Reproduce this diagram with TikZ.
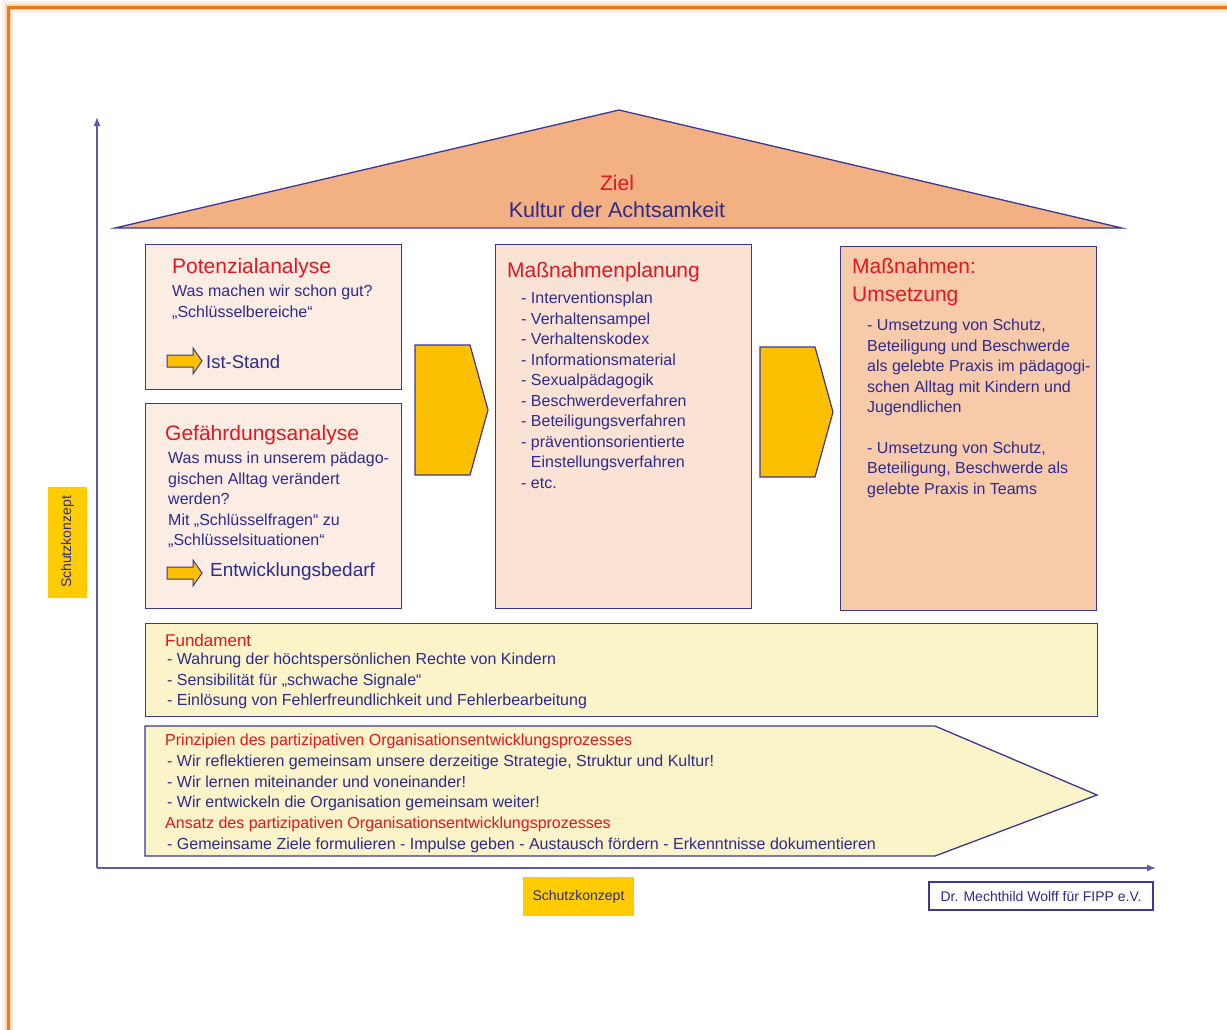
\documentclass[tikz,border=0pt]{standalone}
\usepackage{fontspec}
\setmainfont{Liberation Sans}
\usetikzlibrary{arrows.meta}

\definecolor{navy}{RGB}{46,43,140}
\definecolor{linenavy}{RGB}{60,55,150}
\definecolor{axisblue}{RGB}{95,90,170}
\definecolor{headred}{RGB}{228,22,32}
\definecolor{potfill}{RGB}{251,237,228}
\definecolor{planfill}{RGB}{250,227,213}
\definecolor{umsfill}{RGB}{247,202,170}
\definecolor{rooffill}{RGB}{243,176,131}
\definecolor{basefill}{RGB}{251,244,200}
\definecolor{arrowfill}{RGB}{253,192,0}
\definecolor{tagfill}{RGB}{255,204,0}
\definecolor{frameorange}{RGB}{240,120,20}

\newcommand{\fsz}[2]{\fontsize{#1}{#2}\selectfont}

\tikzset{
  box/.style={draw=linenavy, line width=1.3pt, anchor=north west, inner sep=0pt},
  head/.style={anchor=west, inner sep=0pt, text=headred, font=\fsz{21}{28}, align=left},
  smallhead/.style={anchor=west, inner sep=0pt, text=headred, font=\fsz{16}{20.5}, align=left},
  body/.style={anchor=north west, inner sep=0pt, text=navy, font=\fsz{16}{20.4}, align=left},
  bigarrow/.style={fill=arrowfill, draw=linenavy, line width=1.2pt, line join=miter},
  axis/.style={draw=axisblue, line width=1.3pt, -{Latex[length=9pt,width=7pt]}},
  tag/.style={fill=tagfill, text=navy, font=\fsz{14}{16}, inner sep=0pt,
    minimum width=111pt, minimum height=39pt},
  pics/blockarrow/.style={code={
    \draw[fill=arrowfill, draw=linenavy, line width=1pt]
      (0,-6) -- (26,-6) -- (26,-13) -- (35,0) -- (26,13) -- (26,6) -- (0,6) -- cycle;}}
}

\begin{document}
\begin{tikzpicture}[x=1pt, y=-1pt]
\useasboundingbox (0,0) rectangle (1227,1029);

% page frame with soft glow
\draw[frameorange!12, line width=12pt] (8,1040) -- (8,7) -- (1240,7);
\draw[frameorange!30, line width=6pt] (8,1040) -- (8,7) -- (1240,7);
\draw[frameorange, line width=3pt] (8,1040) -- (8,7) -- (1240,7);

% axes
\coordinate (O) at (97,868);
\coordinate (ytop) at (97,117);
\coordinate (xend) at (1156,868);
\draw[axis] (O) -- (ytop);
\draw[axis] (O) -- (xend);

% roof
\coordinate (roofL) at (115,228);
\coordinate (roofT) at (619,110);
\coordinate (roofR) at (1122,228);
\draw[fill=rooffill, draw=linenavy, line width=1.3pt, line join=miter] (roofL) -- (roofT) -- (roofR) -- cycle;
\node[anchor=center, inner sep=0pt, text=headred, font=\fsz{21}{24}] (ziel) at (617,183) {Ziel};
\node[anchor=center, inner sep=0pt, text=navy, font=\fsz{21.5}{24}] (kultur) at (617,210) {Kultur der Achtsamkeit};

% Potenzialanalyse
\node[box, fill=potfill, minimum width=256pt, minimum height=145pt] (pot) at (145,244) {};
\node[head] (pothead) at (172,268) {Potenzialanalyse};
\node[body] (pottext) at (172,285) {Was machen wir schon gut?\\„Schlüsselbereiche“};
\pic at (167,361) {blockarrow};
\node[anchor=west, inner sep=0pt, text=navy, font=\fsz{18.5}{22}] (ist) at (206,362) {Ist-Stand};

% Gefaehrdungsanalyse
\node[box, fill=potfill, minimum width=256pt, minimum height=205pt] (gef) at (145,403) {};
\node[head] (gefhead) at (165,435) {Gefährdungsanalyse};
\node[body] (geftext) at (168,452) {Was muss in unserem pädago-\\gischen Alltag verändert\\werden?\\Mit „Schlüsselfragen“ zu\\„Schlüsselsituationen“};
\pic at (167,573) {blockarrow};
\node[anchor=west, inner sep=0pt, text=navy, font=\fsz{19}{22}] (bedarf) at (210,572) {Entwicklungsbedarf};

% arrow to planning
\draw[bigarrow] (415,345) -- (470,345) -- (488,410) -- (470,475) -- (415,475) -- cycle;

% Massnahmenplanung
\node[box, fill=planfill, minimum width=256pt, minimum height=364pt] (plan) at (495,244) {};
\node[head] (planhead) at (507,272) {Maßnahmenplanung};
\node[body, font=\fsz{16}{20.5}] (plantext) at (521,292) {- Interventionsplan\\- Verhaltensampel\\- Verhaltenskodex\\- Informationsmaterial\\- Sexualpädagogik\\- Beschwerdeverfahren\\- Beteiligungsverfahren\\- präventionsorientierte\\\phantom{- }Einstellungsverfahren\\- etc.};

% arrow to implementation
\draw[bigarrow] (760,347) -- (815,347) -- (833,412) -- (815,477) -- (760,477) -- cycle;

% Massnahmen: Umsetzung
\node[box, fill=umsfill, minimum width=256pt, minimum height=364pt] (ums) at (840,246) {};
\node[head, anchor=north west] (umshead) at (852,258) {Maßnahmen:\\Umsetzung};
\node[body] (umstext) at (867,319) {- Umsetzung von Schutz,\\Beteiligung und Beschwerde\\als gelebte Praxis im pädagogi-\\schen Alltag mit Kindern und\\Jugendlichen\\[20.4pt]- Umsetzung von Schutz,\\Beteiligung, Beschwerde als\\gelebte Praxis in Teams};

% Fundament
\node[box, fill=basefill, minimum width=952pt, minimum height=93pt] (fund) at (145,623) {};
\node[smallhead, font=\fsz{17}{20.5}] (fundhead) at (165,640) {Fundament};
\node[body] (fundtext) at (167,653) {- Wahrung der höchtspersönlichen Rechte von Kindern\\- Sensibilität für „schwache Signale“\\- Einlösung von Fehlerfreundlichkeit und Fehlerbearbeitung};

% Prinzipien (pointed band)
\draw[fill=basefill, draw=linenavy, line width=1.3pt, line join=miter]
  (145,726) -- (935,726) -- (1097,795) -- (935,856) -- (145,856) -- cycle;
\node[smallhead] (prinhead) at (165,741) {Prinzipien des partizipativen Organisationsentwicklungsprozesses};
\node[body] (printext) at (167,755) {- Wir reflektieren gemeinsam unsere derzeitige Strategie, Struktur und Kultur!\\- Wir lernen miteinander und voneinander!\\- Wir entwickeln die Organisation gemeinsam weiter!};
\node[smallhead] (ansatzhead) at (165,824) {Ansatz des partizipativen Organisationsentwicklungsprozesses};
\node[body] (ansatztext) at (167,838) {- Gemeinsame Ziele formulieren - Impulse geben - Austausch fördern - Erkenntnisse dokumentieren};

% axis tags
\node[tag, rotate=90] (tagy) at (67.5,542) {Schutzkonzept};
\node[tag] (tagx) at (578.5,896.5) {Schutzkonzept};

% credit
\node[draw=linenavy, line width=1.2pt, fill=white, text=navy, font=\fsz{14}{16},
      minimum width=224pt, minimum height=28pt, inner sep=0pt] (credit) at (1041,896) {Dr. Mechthild Wolff für FIPP e.V.};
\end{tikzpicture}
\end{document}
